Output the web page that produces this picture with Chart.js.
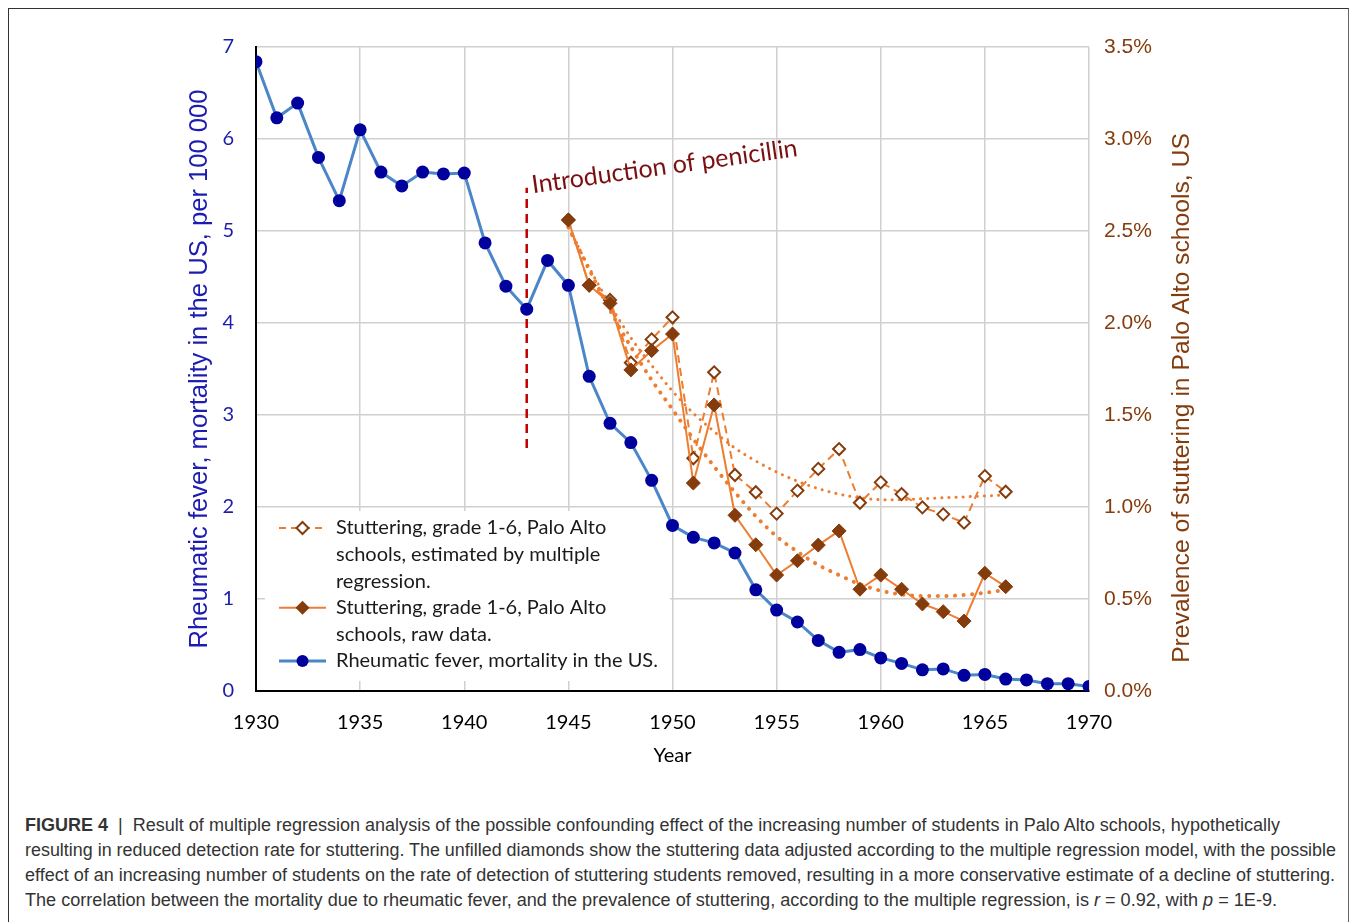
<!DOCTYPE html>
<html>
<head>
<meta charset="utf-8">
<script src="https://cdn.jsdelivr.net/npm/chart.js@4.4.1/dist/chart.umd.min.js"></script>
<style>
body { margin:0; background:#fff; width:1354px; height:922px; overflow:hidden; position:relative; }
#frame { position:absolute; left:8px; top:8px; width:1339px; height:940px; border:1px solid #333; border-right-color:#666; }
#chart { position:absolute; left:0; top:0; }
#caption { position:absolute; left:25px; top:813px; font-family:"Liberation Sans", Arial, sans-serif; font-size:17.5px; color:#333; }
#caption div { white-space:nowrap; height:25px; line-height:25px; transform-origin:0 50%; width:max-content; }
</style>
</head>
<body>
<div id="frame"></div>
<canvas id="chart" width="1354" height="790"></canvas>
<div id="caption">
<div data-w="1255"><b>FIGURE 4</b> &nbsp;|&nbsp; Result of multiple regression analysis of the possible confounding effect of the increasing number of students in Palo Alto schools, hypothetically</div>
<div data-w="1311">resulting in reduced detection rate for stuttering. The unfilled diamonds show the stuttering data adjusted according to the multiple regression model, with the possible</div>
<div data-w="1310">effect of an increasing number of students on the rate of detection of stuttering students removed, resulting in a more conservative estimate of a decline of stuttering.</div>
<div data-w="1252">The correlation between the mortality due to rheumatic fever, and the prevalence of stuttering, according to the multiple regression, is <i>r</i> = 0.92, with <i>p</i> = 1E-9.</div>
</div>
<script>
// rheumatic fever mortality, per 100 000 (left axis)
const feverYears = [1930, 1931, 1932, 1933, 1934, 1935, 1936, 1937, 1938, 1939, 1940,
  1941, 1942, 1943, 1944, 1945, 1946, 1947, 1948, 1949, 1950,
  1951, 1952, 1953, 1954, 1955, 1956, 1957, 1958, 1959, 1960,
  1961, 1962, 1963, 1964, 1965, 1966, 1967, 1968, 1969, 1970];
const feverMortality = [6.84, 6.23, 6.39, 5.80, 5.33, 6.10, 5.64, 5.49, 5.64, 5.62, 5.63,
  4.87, 4.40, 4.15, 4.68, 4.41, 3.42, 2.91, 2.70, 2.29, 1.80,
  1.67, 1.61, 1.50, 1.10, 0.88, 0.75, 0.55, 0.42, 0.45, 0.36,
  0.30, 0.23, 0.24, 0.17, 0.18, 0.13, 0.12, 0.08, 0.08, 0.05];

// stuttering prevalence, % (right axis)
const stutterYears = [1945, 1946, 1947, 1948, 1949, 1950, 1951, 1952, 1953, 1954, 1955,
  1956, 1957, 1958, 1959, 1960, 1961, 1962, 1963, 1964, 1965, 1966];
const stutterRaw = [2.56, 2.205, 2.107, 1.745, 1.85, 1.94, 1.13, 1.555, 0.955, 0.795, 0.63,
  0.708, 0.793, 0.87, 0.553, 0.63, 0.553, 0.473, 0.431, 0.38, 0.64, 0.567];
const stutterEst = [2.56, 2.205, 2.125, 1.784, 1.911, 2.031, 1.265, 1.732, 1.174, 1.08, 0.964,
  1.089, 1.207, 1.315, 1.023, 1.134, 1.07, 0.998, 0.96, 0.915, 1.168, 1.083];
// dotted trend lines
const trendEst = [2.52, 2.30, 2.10, 1.92, 1.77, 1.63, 1.51, 1.41, 1.32, 1.25, 1.19,
  1.14, 1.10, 1.07, 1.05, 1.04, 1.04, 1.045, 1.05, 1.055, 1.06, 1.065];
const trendRaw = [2.52, 2.29, 2.07, 1.87, 1.69, 1.53, 1.37, 1.22, 1.08, 0.95, 0.84,
  0.757, 0.685, 0.63, 0.58, 0.545, 0.525, 0.516, 0.516, 0.522, 0.534, 0.549];

const penicillinYear = 1943;
const penicillinSpan = [2.64, 5.47];

const xTicks = [1930, 1935, 1940, 1945, 1950, 1955, 1960, 1965, 1970];

const ORANGE = '#ed7d31';
const BROWN = '#843c0c';
const BLUE_LINE = '#4a86c8';
const BLUE_DOT = '#00009c';
const BLUE_TEXT = '#1c1cb0';

function pts(xs, ys) { return xs.map((x, i) => ({x: x, y: ys[i]})); }

const legendItems = [
  {lines: ['Stuttering, grade 1-6, Palo Alto', 'schools, estimated by multiple', 'regression.'], kind: 'est'},
  {lines: ['Stuttering, grade 1-6, Palo Alto', 'schools, raw data.'], kind: 'raw'},
  {lines: ['Rheumatic fever, mortality in the US.'], kind: 'fever'}
];

function diamond(ctx, x, y, r, fill, stroke, lw) {
  ctx.beginPath();
  ctx.moveTo(x, y - r); ctx.lineTo(x + r, y); ctx.lineTo(x, y + r); ctx.lineTo(x - r, y); ctx.closePath();
  ctx.fillStyle = fill; ctx.fill();
  if (stroke) { ctx.lineWidth = lw; ctx.strokeStyle = stroke; ctx.stroke(); }
}

const extras = {
  id: 'extras',
  beforeDatasetsDraw(chart) {
    const ctx = chart.ctx;
    const a = chart.chartArea;
    // legend box
    ctx.save();
    ctx.fillStyle = '#fff';
    ctx.fillRect(a.left + 9, 511, 405, 170);
    let y = 528;
    ctx.font = '20px Lato';
    ctx.textBaseline = 'middle';
    legendItems.forEach(it => {
      const x0 = a.left + 23, x1 = a.left + 70, xm = (x0 + x1) / 2;
      ctx.beginPath();
      ctx.moveTo(x0, y); ctx.lineTo(x1, y);
      if (it.kind === 'est') { ctx.setLineDash([7, 5]); ctx.strokeStyle = ORANGE; ctx.lineWidth = 2; }
      else if (it.kind === 'raw') { ctx.setLineDash([]); ctx.strokeStyle = ORANGE; ctx.lineWidth = 2; }
      else { ctx.setLineDash([]); ctx.strokeStyle = BLUE_LINE; ctx.lineWidth = 3; }
      ctx.stroke();
      ctx.setLineDash([]);
      if (it.kind === 'est') diamond(ctx, xm, y, 6, '#fff', BROWN, 2);
      else if (it.kind === 'raw') diamond(ctx, xm, y, 7, BROWN);
      else { ctx.beginPath(); ctx.arc(xm, y, 6, 0, Math.PI * 2); ctx.fillStyle = BLUE_DOT; ctx.fill(); }
      ctx.fillStyle = '#1a1a1a';
      it.lines.forEach(t => { ctx.fillText(t, a.left + 80, y); y += 26.6; });
    });
    ctx.restore();
  },
  afterDraw(chart) {
    const ctx = chart.ctx;
    const xs = chart.scales.x, ys = chart.scales.y;
    // penicillin note
    ctx.save();
    ctx.translate(xs.getPixelForValue(1943.3), ys.getPixelForValue(5.41));
    ctx.rotate(-8 * Math.PI / 180);
    ctx.font = '25px Lato';
    ctx.fillStyle = '#7a0f12';
    ctx.textBaseline = 'alphabetic';
    ctx.fillText('Introduction of penicillin', 0, 0);
    ctx.restore();
    // right axis title (reads bottom to top)
    ctx.save();
    ctx.translate(1182, 398);
    ctx.rotate(-Math.PI / 2);
    ctx.font = '24.7px "Liberation Sans"';
    ctx.fillStyle = BROWN;
    ctx.textAlign = 'center';
    ctx.textBaseline = 'middle';
    ctx.fillText('Prevalence of stuttering in Palo Alto schools, US', 0, 0);
    ctx.restore();
  }
};

const gridColor = '#d0d0d0';

function makeChart() {
  new Chart(document.getElementById('chart'), {
    type: 'line',
    data: {
      datasets: [
        {
          label: 'raw', data: pts(stutterYears, stutterRaw), yAxisID: 'y2', order: 1,
          borderColor: ORANGE, borderWidth: 2, pointStyle: 'rectRot', pointRadius: 7,
          pointBackgroundColor: BROWN, pointBorderColor: BROWN, pointBorderWidth: 1
        },
        {
          label: 'est', data: pts(stutterYears, stutterEst), yAxisID: 'y2', order: 2,
          borderColor: ORANGE, borderWidth: 2, borderDash: [8, 5], pointStyle: 'rectRot', pointRadius: 6,
          pointBackgroundColor: '#fff', pointBorderColor: BROWN, pointBorderWidth: 2
        },
        {
          label: 'trend raw', data: pts(stutterYears, trendRaw), yAxisID: 'y2', order: 3,
          borderColor: ORANGE, borderWidth: 4, borderDash: [0.1, 8.5], borderCapStyle: 'round',
          pointRadius: 0, cubicInterpolationMode: 'monotone'
        },
        {
          label: 'trend est', data: pts(stutterYears, trendEst), yAxisID: 'y2', order: 4,
          borderColor: ORANGE, borderWidth: 3, borderDash: [0.1, 7], borderCapStyle: 'round',
          pointRadius: 0, cubicInterpolationMode: 'monotone'
        },
        {
          label: 'fever', data: pts(feverYears, feverMortality), yAxisID: 'y', order: 5,
          borderColor: BLUE_LINE, borderWidth: 3, pointRadius: 6.5,
          pointBackgroundColor: BLUE_DOT, pointBorderColor: BLUE_DOT, pointBorderWidth: 0
        },
        {
          label: 'penicillin', data: [{x: penicillinYear, y: penicillinSpan[0]}, {x: penicillinYear, y: penicillinSpan[1]}],
          yAxisID: 'y', order: 6, borderColor: '#c00000', borderWidth: 2.5, borderDash: [9, 6], pointRadius: 0
        }
      ]
    },
    options: {
      responsive: false, animation: false, devicePixelRatio: 1,
      layout: {padding: {left: 0, right: 0, top: 47, bottom: 0}},
      plugins: {legend: {display: false}, tooltip: {enabled: false}},
      scales: {
        x: {
          type: 'linear', min: 1930, max: 1970,
          afterBuildTicks: s => { s.ticks = xTicks.map(v => ({value: v})); },
          afterFit: s => { s.height = 99; },
          ticks: {callback: v => String(v), color: '#000', font: {family: 'Lato', size: 20}, padding: 20, maxRotation: 0},
          grid: {color: gridColor, lineWidth: 1.5, drawTicks: false},
          border: {color: '#000', width: 2},
          title: {display: true, text: 'Year', color: '#000', font: {family: 'Lato', size: 20}, padding: {top: 0, bottom: 22}}
        },
        y: {
          position: 'left', min: 0, max: 7,
          afterFit: s => { s.width = 256; },
          ticks: {stepSize: 1, color: BLUE_TEXT, font: {family: 'Lato', size: 20}, padding: 22},
          grid: {color: gridColor, lineWidth: 1.5, drawTicks: false},
          border: {color: '#000', width: 2},
          title: {display: true, text: 'Rheumatic fever, mortality in the US, per 100 000', color: BLUE_TEXT,
            font: {family: 'Liberation Sans', size: 25.6}, padding: {top: 185, bottom: 0}}
        },
        y2: {
          position: 'right', min: 0, max: 3.5,
          afterFit: s => { s.width = 265; },
          ticks: {stepSize: 0.5, callback: v => v.toFixed(1) + '%', color: BROWN, font: {family: 'Liberation Sans', size: 21}, padding: 15},
          grid: {display: false, drawTicks: false},
          border: {display: false}
        }
      }
    },
    plugins: [extras]
  });
}

function fitCaption() {
  document.querySelectorAll('#caption div').forEach(d => {
    const w = d.getBoundingClientRect().width;
    d.style.transform = 'scaleX(' + (Number(d.dataset.w) / w) + ')';
  });
}

document.fonts.load('20px Lato').then(() => document.fonts.load('20px "Liberation Sans"')).then(() => {
  fitCaption();
  makeChart();
});
</script>
</body>
</html>
